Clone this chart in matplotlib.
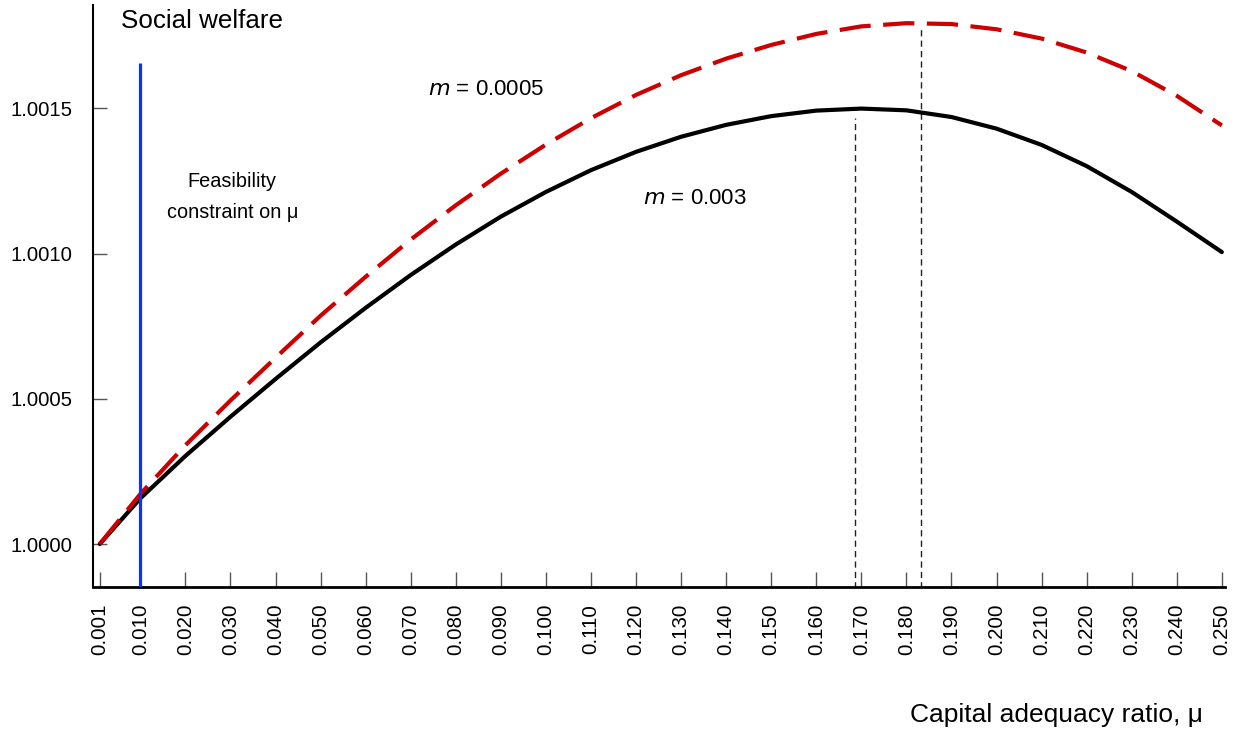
import numpy as np
import matplotlib
matplotlib.use("Agg")
import matplotlib.pyplot as plt

plt.rcParams['font.family'] = ['Liberation Sans', 'DejaVu Sans']

# capital adequacy ratio (x values / tick labels)
mu = [0.001, 0.010, 0.020, 0.030, 0.040, 0.050, 0.060, 0.070, 0.080, 0.090,
      0.100, 0.110, 0.120, 0.130, 0.140, 0.150, 0.160, 0.170, 0.180, 0.190,
      0.200, 0.210, 0.220, 0.230, 0.240, 0.250]

# social welfare, m = 0.003 (solid black)
w_003 = [1.000000, 1.000157, 1.000303, 1.000438, 1.000568, 1.000694, 1.000813,
         1.000926, 1.001031, 1.001127, 1.001212, 1.001287, 1.001350, 1.001402,
         1.001443, 1.001473, 1.001492, 1.001499, 1.001493, 1.001470, 1.001430,
         1.001374, 1.001301, 1.001212, 1.001110, 1.001005]

# social welfare, m = 0.0005 (dashed red)
w_0005 = [1.000000, 1.000172, 1.000340, 1.000494, 1.000641, 1.000786, 1.000920,
          1.001048, 1.001166, 1.001275, 1.001375, 1.001466, 1.001546, 1.001614,
          1.001671, 1.001718, 1.001756, 1.001782, 1.001793, 1.001790, 1.001772,
          1.001740, 1.001692, 1.001628, 1.001543, 1.001441]

yticks = [1.0000, 1.0005, 1.0010, 1.0015]

mu_feasible = 0.010     # feasibility constraint
opt_003 = 0.1687        # optimum for m = 0.003
opt_0005 = 0.1833       # optimum for m = 0.0005

fig = plt.figure(figsize=(12.41, 7.36), dpi=100)
ax = fig.add_axes([93 / 1241, 1 - 587 / 736, (1225 - 93) / 1241, (587 - 5) / 736])

ax.plot(mu, w_003, color='black', lw=3.0, solid_joinstyle='round',
        solid_capstyle='round', zorder=3)
ax.plot(mu, w_0005, color='#cc0000', lw=3.0, dashes=(7.5, 3.0), zorder=3)

# feasibility line
ax.vlines(mu_feasible, 0.99985, 1.001655, color='#0a32ff', lw=2.3, zorder=4)

# optimum markers
ax.vlines(opt_003, 0.99985, 1.001468, color='#222222', lw=1.0,
          linestyles=(0, (4.5, 3.0)), zorder=2)
ax.vlines(opt_0005, 0.99985, 1.001785, color='#222222', lw=1.0,
          linestyles=(0, (4.5, 3.0)), zorder=2)

ax.set_xlim(-0.0005, 0.2507)
ax.set_ylim(0.999852, 1.0018556)

ax.set_xticks(mu)
ax.set_xticklabels(['%.3f' % v for v in mu], rotation=90, fontsize=14.8)
ax.set_yticks(yticks)
ax.set_yticklabels(['%.4f' % v for v in yticks], fontsize=14.6)

ax.tick_params(axis='x', direction='in', length=11, width=1.0, color='#555555', pad=12)
ax.tick_params(axis='y', direction='in', length=10, width=1.0, color='#555555', pad=15)

for s in ['top', 'right']:
    ax.spines[s].set_visible(False)
ax.spines['left'].set_linewidth(1.5)
ax.spines['bottom'].set_linewidth(2.0)

ax.text(0.0739, 1.001563, r'$\it{m}$ = 0.0005', fontsize=16, va='center', ha='left')
ax.text(0.1216, 1.001191, r'$\it{m}$ = 0.003', fontsize=16, va='center', ha='left')
ax.text(0.0304, 1.001195, 'Feasibility\nconstraint on μ', fontsize=14.3,
        ha='center', va='center', linespacing=1.75)

fig.text(121 / 1241, 1 - 21 / 736, 'Social welfare', fontsize=18.7, va='center', ha='left')
fig.text(1203 / 1241, 1 - 715 / 736, 'Capital adequacy ratio, μ', fontsize=19,
         va='center', ha='right')

fig.savefig('out.png', dpi=100)
